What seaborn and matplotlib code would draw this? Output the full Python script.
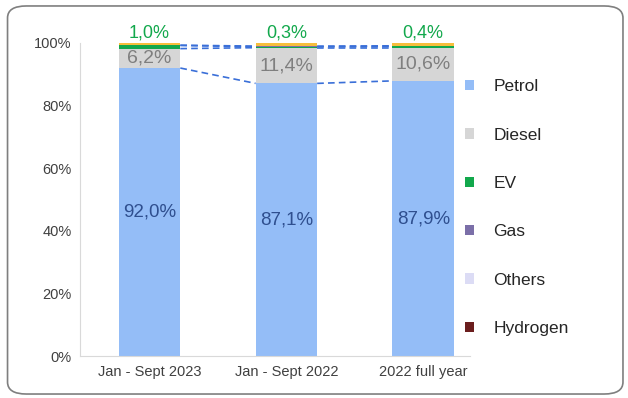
import matplotlib
matplotlib.use("Agg")
import matplotlib.pyplot as plt
from matplotlib.patches import FancyBboxPatch, Patch
import seaborn as sns
import numpy as np

categories = ["Jan - Sept 2023", "Jan - Sept 2022", "2022 full year"]
petrol = [92.0, 87.1, 87.9]
diesel = [6.2, 11.4, 10.6]
ev = [1.0, 0.3, 0.4]
gas = [0.1, 0.2, 0.2]
others = [0.6, 0.9, 0.8]
hydrogen = [0.0, 0.0, 0.0]
petrol_labels = ["92,0%", "87,1%", "87,9%"]
diesel_labels = ["6,2%", "11,4%", "10,6%"]
ev_labels = ["1,0%", "0,3%", "0,4%"]

series = [("Petrol", petrol, "#94BDF7"), ("Diesel", diesel, "#D6D6D6"),
          ("EV", ev, "#12A84C"), ("Gas", gas, "#7B6FA8"),
          ("Others", others, "#F7BE3C"), ("Hydrogen", hydrogen, "#6B1E1E")]
legend_colors = {"Others": "#DCDCF5"}

sns.set_style("white")
plt.rcParams["font.family"] = ["Liberation Sans", "DejaVu Sans"]

fig = plt.figure(figsize=(6.28, 3.98), dpi=100)
ax = fig.add_axes([0.127, 0.105, 0.621, 0.787])

w = 0.45
bottom = np.zeros(3)
bounds = []
for name, vals, col in series:
    sns.barplot(x=categories, y=vals, bottom=bottom, color=col, width=w,
                ax=ax, saturation=1, linewidth=0)
    bottom = bottom + np.array(vals)
    bounds.append(bottom.copy())

# dashed connectors
for b in bounds[:4]:
    for i in range(2):
        ax.plot([i + w / 2, i + 1 - w / 2], [b[i], b[i + 1]], ls=(0, (4, 2.5)),
                color="#3A6FD8", lw=1.2)

for i in range(3):
    ax.text(i, petrol[i] / 2, petrol_labels[i], ha="center", va="center",
            fontsize=13.5, color="#2F4F8F")
    ax.text(i, petrol[i] + diesel[i] / 2, diesel_labels[i], ha="center", va="center",
            fontsize=14, color="#7F7F7F")
    ax.text(i, 100.6, ev_labels[i], ha="center", va="bottom",
            fontsize=13, color="#12A84C")

ax.set_ylim(0, 100)
ax.set_xlim(-0.51, 2.34)
ax.set_yticks(range(0, 101, 20))
ax.set_yticklabels([f"{v}%" for v in range(0, 101, 20)])
ax.tick_params(axis="both", labelsize=10.5, colors="#404040", length=0, pad=6)
for s in ["top", "right"]:
    ax.spines[s].set_visible(False)
ax.spines["left"].set_color("#D9D9D9")
ax.spines["bottom"].set_color("#D9D9D9")

handles = [Patch(facecolor=legend_colors.get(n, c), edgecolor="none") for n, _, c in series]
fig.legend(handles, [n for n, _, _ in series], loc="upper left",
           bbox_to_anchor=(0.715, 0.84), frameon=False, fontsize=12.5,
           handlelength=0.55, handleheight=0.55, labelspacing=1.92, handletextpad=1.1)

frame = FancyBboxPatch((0.012, 0.01), 0.98, 0.975, boxstyle="round,pad=0,rounding_size=0.03",
                       transform=fig.transFigure, fill=False, edgecolor="#7F7F7F", lw=1.2,
                       clip_on=False)
fig.patches.append(frame)

fig.savefig("out.png", dpi=100)
